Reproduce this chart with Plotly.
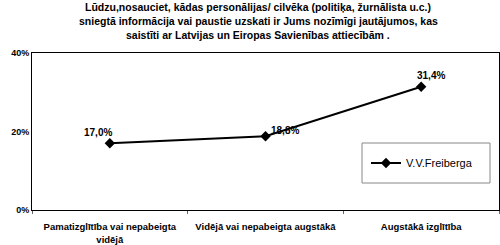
import plotly.graph_objects as go

categories = ["Pamatizglītība vai nepabeigta<br>vidējā", "Vidējā vai nepabeigta augstākā", "Augstākā izglītība"]
values = [17.0, 18.8, 31.4]
value_labels = ["17,0%", "18,8%", "31,4%"]
series_name = "V.V.Freiberga"
y_ticks = [0, 20, 40]
y_tick_labels = ["0%", "20%", "40%"]
title_lines = ["Lūdzu,nosauciet, kādas personālijas/ cilvēka (politiķa, žurnālista u.c.)",
               "sniegtā informācija vai paustie uzskati ir Jums nozīmīgi jautājumos, kas",
               "saistīti ar Latvijas un Eiropas Savienības attiecībām ."]

FONT = "Liberation Sans, Arial, sans-serif"

fig = go.Figure()
fig.add_trace(go.Scatter(
    x=categories, y=values, mode="lines+markers", name=series_name,
    line=dict(color="black", width=2),
    marker=dict(symbol="diamond", size=8, color="black"),
    showlegend=True,
))

shifts = [(-12, 11), (19, 6), (10, 11)]
for c, v, t, (dx, dy) in zip(categories, values, value_labels, shifts):
    fig.add_annotation(x=c, y=v, xref="x", yref="y", text=t, showarrow=False,
                       xshift=dx, yshift=dy,
                       font=dict(family=FONT, size=10, color="black", weight="bold"))

for i, line in enumerate(title_lines):
    fig.add_annotation(text=line, xref="paper", yref="paper", x=(258-32)/467, y=1.0,
                       yshift=53 - 6.5 - i * 14.3, xanchor="center", yanchor="middle",
                       showarrow=False,
                       font=dict(family=FONT, size=10.5, color="black", weight="bold"))

# legend box
fig.add_shape(type="rect", xref="paper", yref="paper",
              x0=(362-32)/467, x1=(490-32)/467, y0=(210-183)/157, y1=(210-143)/157,
              line=dict(color="#888888", width=1), fillcolor="white", layer="below")

fig.update_layout(
    width=500, height=245,
    margin=dict(l=32, r=1, t=53, b=35, autoexpand=False),
    paper_bgcolor="white", plot_bgcolor="white",
    font=dict(family=FONT, size=10, color="black"),
    legend=dict(x=(366-32)/467, y=(210-163)/157, xanchor="left", yanchor="middle",
                bgcolor="rgba(0,0,0,0)", borderwidth=0,
                font=dict(family=FONT, size=11, color="black")),
)
fig.update_xaxes(type="category", range=[-0.5, 2.5], showgrid=False, automargin=False,
                 showline=True, linecolor="black", linewidth=1, mirror=True,
                 ticks="outside", tickson="boundaries", ticklen=3, tickcolor="#666666",
                 tickangle=0, ticklabelstandoff=8,
                 tickfont=dict(family=FONT, size=9.5, color="black", weight="bold"))
fig.update_yaxes(range=[0, 40], tickvals=y_ticks, ticktext=y_tick_labels, showgrid=False,
                 zeroline=False, showline=True, linecolor="black", linewidth=1, mirror=True,
                 ticks="", ticklen=0, automargin=False,
                 tickfont=dict(family=FONT, size=9, color="black", weight="bold"))

fig.write_html("out.html")
